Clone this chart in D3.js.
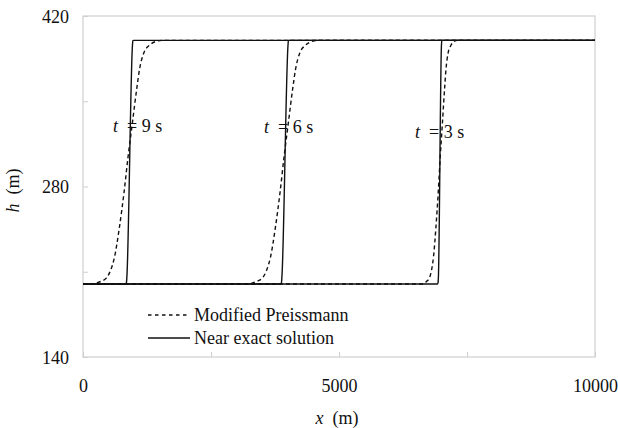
<!DOCTYPE html>
<html>
<head>
<meta charset="utf-8">
<script src="https://cdn.jsdelivr.net/npm/d3@7"></script>
<style>
  html, body { margin: 0; padding: 0; background: #fff; }
  svg, svg text, svg tspan { font-family: "Liberation Serif", "DejaVu Serif", serif !important; }
  svg text { fill: #111; }
</style>
</head>
<body>
<div id="chart"></div>
<script>
// axis setup
const xDomain = [0, 10000];
const yDomain = [140, 420];
const xTickValues = [0, 2500, 5000, 7500, 10000];
const xTickLabels = ["0", "", "5000", "", "10000"];
const yTickValues = [140, 210, 280, 350, 420];
const yTickLabels = ["140", "", "280", "", "420"];

// Modified Preissmann (dashed), x in m, h in m
const preissmannT9 = [[0, 200], [166, 200], [244, 200.5], [342, 202], [459, 205], [537, 211], [615, 222], [713, 247], [801, 275], [879, 304], [967, 333], [1055, 362], [1103, 376], [1191, 390], [1299, 396], [1416, 399], [1553, 400], [10000, 400]];
const preissmannT6 = [[0, 200], [3213, 200], [3291, 200.5], [3389, 202], [3506, 205], [3584, 211], [3662, 222], [3760, 247], [3848, 275], [3926, 304], [4013, 333], [4101, 362], [4150, 376], [4238, 390], [4346, 396], [4463, 399], [4599, 400], [10000, 400]];
const preissmannT3 = [[0, 200], [6621, 200], [6660, 200.5], [6709, 202], [6767, 205], [6806, 211], [6845, 222], [6894, 247], [6938, 275], [6977, 304], [7021, 333], [7065, 362], [7089, 376], [7133, 390], [7187, 396], [7246, 399], [7314, 400], [10000, 400]];

// Near exact solution (solid)
const exactT9 = [[0, 200], [835, 200], [848, 201], [856, 205], [966, 396], [973, 399.5], [988, 400], [10000, 400]];
const exactT6 = [[0, 200], [3865, 200], [3876, 201], [3884, 205], [4004, 396], [4011, 399.5], [4025, 400], [10000, 400]];
const exactT3 = [[0, 200], [6925, 200], [6935, 201], [6941, 205], [7001, 396], [7007, 399.5], [7020, 400], [10000, 400]];

const timeLabels = ["9", "6", "3"];
const labelAnchors = [[586, 325], [3535, 324], [6484, 320]];

const legendNames = ["Modified Preissmann", "Near exact solution"];

const width = 618;
const height = 428;
const margin = { top: 16, right: 23, bottom: 71, left: 83 };
const AXIS_GREY = "#cfcfcf";
const LINE = "#111";
const FONT = "'Liberation Serif', 'DejaVu Serif', serif";

const svg = d3.select("#chart").append("svg")
  .attr("width", width)
  .attr("height", height)
  .style("font-family", FONT);

const x = d3.scaleLinear().domain(xDomain).range([margin.left, width - margin.right]);
const y = d3.scaleLinear().domain(yDomain).range([height - margin.bottom, margin.top]);

// frame
svg.append("rect")
  .attr("x", x(xDomain[0]))
  .attr("y", y(yDomain[1]))
  .attr("width", x(xDomain[1]) - x(xDomain[0]))
  .attr("height", y(yDomain[0]) - y(yDomain[1]))
  .attr("fill", "none")
  .attr("stroke", AXIS_GREY)
  .attr("stroke-width", 1.2);

// x axis
const xAxis = svg.append("g")
  .attr("transform", `translate(0,${y(yDomain[0])})`)
  .call(d3.axisBottom(x).tickValues(xTickValues).tickSizeInner(-5).tickSizeOuter(0)
    .tickFormat((d, i) => xTickLabels[i]));
xAxis.attr("font-family", null);
xAxis.select(".domain").remove();
xAxis.selectAll(".tick line").attr("stroke", AXIS_GREY);
xAxis.selectAll(".tick text")
  .attr("y", 35)
  .attr("dy", 0)
  .style("font-size", "18px")
  .style("font-family", FONT);

// y axis
const yAxis = svg.append("g")
  .attr("transform", `translate(${x(xDomain[0])},0)`)
  .call(d3.axisLeft(y).tickValues(yTickValues).tickSizeInner(-5).tickSizeOuter(0)
    .tickFormat((d, i) => yTickLabels[i]));
yAxis.attr("font-family", null);
yAxis.select(".domain").remove();
yAxis.selectAll(".tick line").attr("stroke", AXIS_GREY);
yAxis.selectAll(".tick text")
  .attr("x", -14)
  .attr("dy", "0.34em")
  .style("font-size", "18px")
  .style("font-family", FONT);

// axis titles
const xTitle = svg.append("text")
  .attr("x", (x(xDomain[0]) + x(xDomain[1])) / 2 - 2)
  .attr("y", 424)
  .attr("text-anchor", "middle")
  .style("font-size", "18px")
  .style("font-family", FONT);
xTitle.append("tspan").style("font-style", "italic").text("x");
xTitle.append("tspan").text("\u00a0 (m)");

const yTitle = svg.append("text")
  .attr("transform", `translate(19,${(y(yDomain[0]) + y(yDomain[1])) / 2 + 4}) rotate(-90)`)
  .attr("text-anchor", "middle")
  .style("font-size", "18px")
  .style("font-family", FONT);
yTitle.append("tspan").style("font-style", "italic").text("h");
yTitle.append("tspan").text("\u00a0 (m)");

// curves
const line = d3.line()
  .x(d => x(d[0]))
  .y(d => y(d[1]))
  .curve(d3.curveMonotoneX);

const plot = svg.append("g");

[preissmannT9, preissmannT6, preissmannT3].forEach(series => {
  plot.append("path")
    .attr("d", line(series))
    .attr("fill", "none")
    .attr("stroke", LINE)
    .attr("stroke-width", 1.4)
    .attr("stroke-dasharray", "4,3");
});

[exactT9, exactT6, exactT3].forEach(series => {
  plot.append("path")
    .attr("d", line(series))
    .attr("fill", "none")
    .attr("stroke", LINE)
    .attr("stroke-width", 1.4);
});

// time labels
timeLabels.forEach((t, i) => {
  const lbl = svg.append("text")
    .attr("x", x(labelAnchors[i][0]))
    .attr("y", y(labelAnchors[i][1]))
    .style("font-size", "18px")
    .style("font-family", FONT);
  lbl.append("tspan").style("font-style", "italic").text("t");
  lbl.append("tspan").text(`\u00a0 = ${t} s`);
});

// legend
const legend = svg.append("g").attr("transform", "translate(148,315)");
legendNames.forEach((name, i) => {
  const row = legend.append("g").attr("transform", `translate(0,${i * 23})`);
  row.append("line")
    .attr("x1", 0).attr("x2", 42)
    .attr("y1", 0).attr("y2", 0)
    .attr("stroke", LINE)
    .attr("stroke-width", 1.3)
    .attr("stroke-dasharray", i === 0 ? "3.5,3.5" : null);
  row.append("text")
    .attr("x", 46)
    .attr("y", 5.5)
    .style("font-size", "18px")
    .style("font-family", FONT)
    .text(name);
});
</script>
</body>
</html>
